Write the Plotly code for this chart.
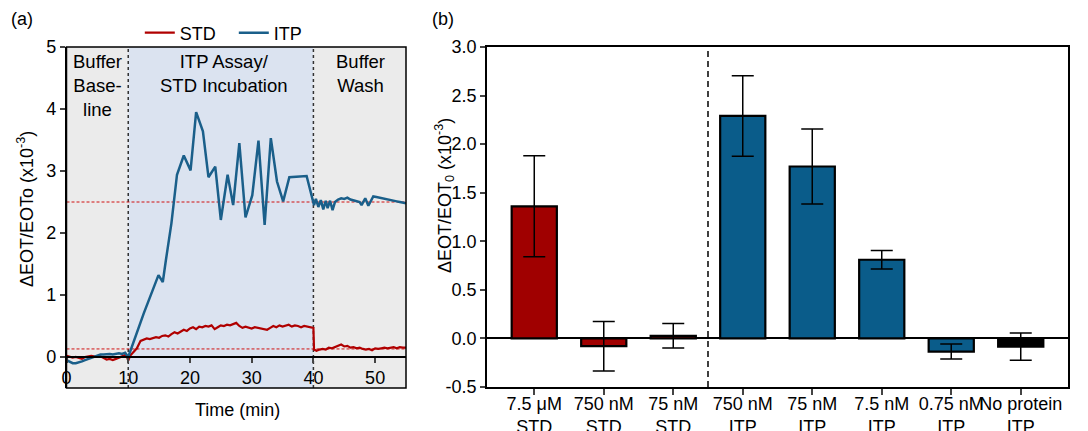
import plotly.graph_objects as go

# ---------------- Panel (a) data: time traces ----------------
std_t = [0, 0.5, 1, 1.5, 2, 2.5, 3, 3.5, 4, 4.5, 5, 5.5, 6, 6.5, 7, 7.5, 8, 8.5, 9, 9.5, 9.8, 10,
         10.3, 10.8, 11.4, 12, 12.5, 13, 13.5, 14, 14.5, 15, 15.5, 16, 16.5, 17, 17.5, 18, 18.5, 19,
         19.5, 20, 20.5, 21, 21.5, 22, 22.5, 23, 23.5, 24, 24.5, 25, 25.5, 26, 26.5, 27, 27.5, 28,
         28.5, 29, 29.5, 30, 30.5, 31, 31.5, 32, 32.5, 33, 33.5, 34, 34.5, 35, 35.5, 36, 36.5, 37,
         37.5, 38, 38.5, 39, 39.5, 40, 40.1, 40.5, 41, 41.5, 42, 42.5, 43, 43.5, 44, 44.5, 45, 45.5,
         46, 46.5, 47, 47.5, 48, 48.5, 49, 49.5, 50, 50.5, 51, 51.5, 52, 52.5, 53, 53.5, 54, 54.5, 55]
std_v = [0.02, 0.01, -0.01, 0.0, -0.02, -0.03, 0.0, 0.01, 0.02, 0.01, 0.0, 0.01, -0.02, -0.04, -0.03,
         -0.05, -0.03, -0.01, 0.02, 0.03, 0.0, -0.06,
         0.02, 0.08, 0.14, 0.26, 0.28, 0.30, 0.29, 0.31, 0.32, 0.31, 0.34, 0.35, 0.33, 0.37, 0.40,
         0.38, 0.41, 0.44, 0.42, 0.46, 0.48, 0.45, 0.49, 0.48, 0.50, 0.49, 0.51, 0.45, 0.48, 0.51,
         0.50, 0.52, 0.51, 0.53, 0.55, 0.50, 0.47, 0.49, 0.48, 0.46, 0.48, 0.47, 0.46, 0.45, 0.44,
         0.47, 0.50, 0.48, 0.51, 0.49, 0.50, 0.52, 0.49, 0.51, 0.50, 0.48, 0.50, 0.49, 0.48, 0.47,
         0.12, 0.10, 0.12, 0.13, 0.12, 0.15, 0.14, 0.16, 0.19, 0.20, 0.17, 0.18, 0.15, 0.16, 0.14,
         0.15, 0.13, 0.12, 0.13, 0.11, 0.14, 0.13, 0.14, 0.15, 0.14, 0.15, 0.16, 0.14, 0.16, 0.15, 0.15]

itp_t = [0, 0.5, 1, 1.5, 2, 2.5, 3, 3.5, 4, 4.5, 5, 5.5, 6, 6.5, 7, 7.5, 8, 8.5, 9, 9.5, 10,
         12.5, 14.9, 15.6, 16.1, 17.0, 17.9, 19.0, 20.1, 21.0, 22.1, 23.0, 24.1, 25.0, 26.1, 27.0,
         28.0, 29.0, 30.1, 31.1, 32.1, 33.1, 34.1, 35.1, 36.1, 38.9, 40.1,
         40.4, 40.8, 41.2, 41.6, 42.0, 42.3, 42.7, 43.1, 43.5, 44.0, 44.5, 45.0, 45.5, 46.0, 46.5,
         47.0, 47.5, 47.8, 48.4, 48.9, 49.7, 50.2, 51.0, 51.5, 52.0, 52.5, 53.0, 53.5, 54.0, 54.5, 55.0]
itp_v = [-0.05, -0.08, -0.10, -0.10, -0.09, -0.07, -0.05, -0.03, -0.01, 0.01, 0.03, 0.04, 0.04,
         0.05, 0.05, 0.04, 0.05, 0.06, 0.05, 0.07, 0.0,
         0.70, 1.32, 1.21, 1.56, 2.16, 2.94, 3.25, 3.01, 3.95, 3.64, 2.90, 3.07, 2.21, 2.94, 2.45,
         3.45, 2.25, 2.61, 3.49, 2.13, 3.53, 2.83, 2.51, 2.90, 2.92, 2.45,
         2.55, 2.42, 2.53, 2.38, 2.52, 2.40, 2.52, 2.37, 2.50, 2.54, 2.56, 2.55, 2.57, 2.54, 2.53,
         2.52, 2.50, 2.45, 2.56, 2.44, 2.59, 2.58, 2.56, 2.55, 2.54, 2.53, 2.52, 2.51, 2.50, 2.49, 2.48]

phase_edges = [0, 10, 40, 55]
phase_labels = ["Buffer<br>Base-<br>line", "ITP Assay/<br>STD Incubation", "Buffer<br>Wash"]
phase_label_x = [5, 25.5, 47.6]
ref_levels = [2.5, 0.13]

# ---------------- Panel (b) data: bars ----------------
bar_labels = ["7.5 μM<br>STD", "750 nM<br>STD", "75 nM<br>STD", "750 nM<br>ITP",
              "75 nM<br>ITP", "7.5 nM<br>ITP", "0.75 nM<br>ITP", "No protein<br>ITP"]
bar_values = [1.36, -0.08, 0.027, 2.29, 1.77, 0.81, -0.135, -0.085]
bar_errors = [0.52, 0.255, 0.126, 0.415, 0.385, 0.095, 0.078, 0.14]

RED = "#a00000"
BLUE = "#0a5c8a"
LRED = "#b00000"
LBLUE = "#1a5f8a"
bar_colors = [RED, RED, RED, BLUE, BLUE, BLUE, BLUE, "#000000"]

FONT = "Liberation Sans, Arial, sans-serif"
W, H, OFF = 1088, 431, 8  # page body margin offsets the figure by 8 px


def px(X):
    return (X - OFF) / W


def py(Y):
    return 1 - (Y - OFF) / H


fig = go.Figure()

fig.add_trace(go.Scatter(x=std_t, y=std_v, mode="lines", name="STD",
                         line=dict(color=LRED, width=2.2), xaxis="x", yaxis="y"))
fig.add_trace(go.Scatter(x=itp_t, y=itp_v, mode="lines", name="ITP",
                         line=dict(color=LBLUE, width=2.5), xaxis="x", yaxis="y"))

fig.add_trace(go.Bar(x=list(range(len(bar_labels))), y=bar_values, width=0.65,
                     marker=dict(color=bar_colors, line=dict(color="black", width=2.2)),
                     error_y=dict(type="data", array=bar_errors, visible=True,
                                  color="black", thickness=1.5, width=11),
                     showlegend=False, xaxis="x2", yaxis="y2"))

ya_dom = [py(388), py(47)]
yb_dom = [py(387), py(47)]
ya_range = [-0.5, 5]
zero_pos = ya_dom[0] + (0 - ya_range[0]) / (ya_range[1] - ya_range[0]) * (ya_dom[1] - ya_dom[0])

tickfont = dict(family=FONT, size=18, color="black")

fig.update_layout(
    width=W, height=H,
    margin=dict(l=0, r=0, t=0, b=0),
    paper_bgcolor="white", plot_bgcolor="white",
    font=dict(family=FONT, size=18, color="black"),
    xaxis=dict(domain=[px(66.5), px(406)], range=[0, 55], anchor="free", position=zero_pos,
               tickvals=[0, 10, 20, 30, 40, 50], ticks="outside", ticklen=5, tickwidth=1.5,
               showline=True, linecolor="black", linewidth=1.5, showgrid=False, zeroline=False,
               tickfont=tickfont, automargin=False),
    yaxis=dict(domain=ya_dom, range=ya_range, tickvals=[0, 1, 2, 3, 4, 5], ticks="outside",
               ticklen=5, tickwidth=1.5, showline=True, linecolor="black", linewidth=1.5,
               showgrid=False, zeroline=False, tickfont=tickfont, automargin=False, anchor="x"),
    xaxis2=dict(domain=[px(487), px(1068)], range=[-0.68, 7.68],
                tickvals=list(range(len(bar_labels))), ticktext=bar_labels,
                ticks="outside", ticklen=6, tickwidth=1.5, showline=True, mirror=True,
                linecolor="black", linewidth=1.8, showgrid=False, zeroline=False,
                tickfont=tickfont, automargin=False, anchor="y2", tickangle=0,
                ticklabelstandoff=-7),
    yaxis2=dict(domain=yb_dom, range=[-0.5, 3.0], tickvals=[-0.5, 0, 0.5, 1, 1.5, 2, 2.5, 3],
                ticktext=["-0.5", "0.0", "0.5", "1.0", "1.5", "2.0", "2.5", "3.0"],
                ticks="outside", ticklen=5, tickwidth=1.5, showline=True, mirror=True,
                linecolor="black", linewidth=1.8, showgrid=False, zeroline=True,
                zerolinecolor="black", zerolinewidth=1.8, tickfont=tickfont,
                automargin=False, anchor="x2"),
    legend=dict(orientation="h", x=0.1216 - 0.5 / W, y=0.985, xanchor="left", yanchor="top",
                font=dict(family=FONT, size=18), bgcolor="rgba(0,0,0,0)",
                entrywidth=49, entrywidthmode="pixels", itemwidth=30),
    bargap=0.35,
)

shapes = []
fills = ["#ebebeb", "#dbe3f0", "#ebebeb"]
for i in range(3):
    shapes.append(dict(type="rect", xref="x", yref="y domain", x0=phase_edges[i],
                       x1=phase_edges[i + 1], y0=0, y1=1, fillcolor=fills[i],
                       line=dict(width=0), layer="below"))
for xv in [10, 40]:
    shapes.append(dict(type="line", xref="x", yref="y domain", x0=xv, x1=xv, y0=0, y1=1,
                       line=dict(color="#333333", width=1.5, dash="dot"), layer="below"))
for lv in ref_levels:
    shapes.append(dict(type="line", xref="x domain", yref="y", x0=0, x1=1, y0=lv, y1=lv,
                       line=dict(color="#d01010", width=1, dash="3px,2px"), layer="below"))
shapes.append(dict(type="rect", xref="x domain", yref="y domain", x0=0, x1=1, y0=0, y1=1,
                   line=dict(color="black", width=1.5), fillcolor="rgba(0,0,0,0)", layer="above"))
shapes.append(dict(type="line", xref="x2", yref="y2 domain", x0=2.5, x1=2.5, y0=0, y1=1,
                   line=dict(color="black", width=1.5, dash="6px,4px"), layer="above"))
fig.update_layout(shapes=shapes)

ann = []
for lab, xv in zip(phase_labels, phase_label_x):
    ann.append(dict(x=xv, y=4.97, xref="x", yref="y", text=lab, showarrow=False,
                    yanchor="top", xanchor="center", align="center",
                    font=dict(family=FONT, size=18.5, color="black")))


def pann(X, Y, text, angle=0):
    return dict(x=px(X), y=py(Y), xref="paper", yref="paper", text=text, showarrow=False,
                xanchor="center", yanchor="middle", textangle=angle,
                font=dict(family=FONT, size=18, color="black"))


ann.append(pann(22, 19, "(a)"))
ann.append(pann(443, 19, "(b)"))
ann.append(pann(237, 410, "Time (min)"))
ann.append(pann(25, 209, "ΔEOT/EOTo (x10<sup>-3</sup>)", -90))
ann.append(pann(445, 196, "ΔEOT/EOT<sub>0</sub> (x10<sup>-3</sup>)", -90))
fig.update_layout(annotations=ann)

fig.write_html("out.html")
